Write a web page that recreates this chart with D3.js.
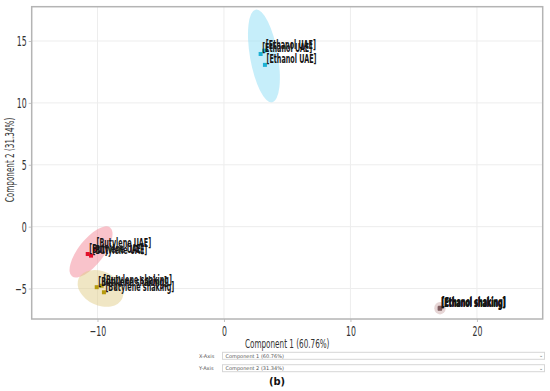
<!DOCTYPE html>
<html>
<head>
<meta charset="utf-8">
<style>
  body { margin: 0; background: #fff; }
  svg text { font-family: "DejaVu Sans Condensed", "Liberation Sans Narrow", sans-serif; }
  .grid line { stroke: #ededed; stroke-width: 1; }
  .tick line { stroke: #c4c4c4; }
  .tick text { fill: #333; font-size: 14px; }
  .frame { fill: none; stroke: #b4b4b4; stroke-width: 1.5; }
  .lbl { fill: #151515; font-size: 13px; font-weight: bold; }
  .title { fill: #333; font-size: 13px; }
  .ctl rect { fill: #fff; stroke: #d6d6d6; }
  .ctl text { fill: #555; font-size: 5px; font-family: "DejaVu Sans", sans-serif; }
</style>
</head>
<body>
<svg id="chart" width="550" height="391"></svg>
<script src="https://d3js.org/d3.v7.min.js"></script>
<script>
  var groupNames = ['Ethanol UAE', 'Butylene UAE', 'Butylene shaking', 'Ethanol shaking'];
  var groupColors = ['#1cb0d4', '#e3102c', '#b59a0c', '#7d5b5e'];
  var ellipseColors = ['#8dddf5', '#f38797', '#e1cd89', '#cdabab'];

  var pointGroup = [0, 0, 0, 1, 1, 1, 2, 2, 2, 3, 3, 3];
  var pointX = [2.90, 3.19, 3.24, -10.77, -10.51, -10.20, -10.06, -9.67, -9.49, 17.05, 17.10, 17.08];
  var pointY = [13.95, 14.22, 13.07, -2.21, -2.34, -1.80, -4.89, -4.77, -5.30, -6.60, -6.55, -6.62];

  var ellipseCx = [3.16, -10.51, -9.76, 17.08];
  var ellipseCy = [13.79, -2.04, -4.99, -6.59];
  var ellipseRx = [1.1, 1.0, 1.9, 0.45];
  var ellipseRy = [3.8, 2.5, 1.37, 0.5];
  var ellipseAngle = [-10, 38, 25, 0];

  var xTicks = [-10, 0, 10, 20];
  var yTicks = [-5, 0, 5, 10, 15];
  var xTitle = 'Component 1 (60.76%)';
  var yTitle = 'Component 2 (31.34%)';
  var selectLabels = ['X-Axis', 'Y-Axis'];
  var selectValues = ['Component 1 (60.76%)', 'Component 2 (31.34%)'];
  var caption = '(b)';

  var plotLeft = 31.7, plotTop = 6.7, plotRight = 542.7, plotBottom = 319,
    squeeze = 0.62, labelSqueeze = 0.55;

  var svg = d3.select('#chart');

  var x = d3.scaleLinear().domain([-15.2, 25.2]).range([plotLeft, plotRight]);
  var y = d3.scaleLinear().domain([-7.46, 17.77]).range([plotBottom, plotTop]);

  // grid
  var grid = svg.append('g').attr('class', 'grid');
  grid.selectAll('.gx').data(xTicks).join('line')
    .attr('x1', d => x(d)).attr('x2', d => x(d))
    .attr('y1', plotTop).attr('y2', plotBottom);
  grid.selectAll('.gy').data(yTicks).join('line')
    .attr('y1', d => y(d)).attr('y2', d => y(d))
    .attr('x1', plotLeft).attr('x2', plotRight);

  // axes
  var xAxis = svg.append('g')
    .attr('transform', 'translate(0,' + plotBottom + ')')
    .call(d3.axisBottom(x).tickValues(xTicks).tickSize(3).tickPadding(4).tickFormat(d3.format('d')));
  var yAxis = svg.append('g')
    .attr('transform', 'translate(' + plotLeft + ',0)')
    .call(d3.axisLeft(y).tickValues(yTicks).tickSize(3).tickPadding(4).tickFormat(d3.format('d')));
  xAxis.select('.domain').remove();
  yAxis.select('.domain').remove();
  svg.selectAll('.tick text').attr('font-size', null);
  xAxis.selectAll('.tick text').attr('transform', 'scale(' + squeeze + ',1)');
  yAxis.selectAll('.tick text')
    .attr('x', -5 / squeeze)
    .attr('transform', 'scale(' + squeeze + ',1)');

  // ellipses
  svg.append('g').selectAll('ellipse').data(groupNames).join('ellipse')
    .attr('cx', 0).attr('cy', 0)
    .attr('rx', (d, i) => x(ellipseCx[i] + ellipseRx[i]) - x(ellipseCx[i]))
    .attr('ry', (d, i) => y(ellipseCy[i]) - y(ellipseCy[i] + ellipseRy[i]))
    .attr('transform', (d, i) => 'translate(' + x(ellipseCx[i]) + ',' + y(ellipseCy[i]) + ') rotate(' + ellipseAngle[i] + ')')
    .attr('fill', (d, i) => ellipseColors[i])
    .attr('fill-opacity', 0.5);

  // points
  var idx = d3.range(pointX.length);
  svg.append('g').selectAll('rect').data(idx).join('rect')
    .attr('x', i => x(pointX[i]) - 2)
    .attr('y', i => y(pointY[i]) - 2)
    .attr('width', 4).attr('height', 4)
    .attr('fill', i => groupColors[pointGroup[i]]);

  // labels
  svg.append('g').selectAll('text').data(idx).join('text')
    .attr('class', 'lbl')
    .attr('transform', i => 'translate(' + (x(pointX[i]) + 1.5) + ',' + (y(pointY[i]) - 1.5) + ') scale(' + labelSqueeze + ',1)')
    .text(i => '[' + groupNames[pointGroup[i]] + ']');

  svg.append('rect').attr('class', 'frame')
    .attr('x', plotLeft).attr('y', plotTop)
    .attr('width', plotRight - plotLeft).attr('height', plotBottom - plotTop);

  // axis titles
  svg.append('text').attr('class', 'title')
    .attr('text-anchor', 'middle')
    .attr('transform', 'translate(' + (plotLeft + plotRight) / 2 + ',348) scale(' + squeeze + ',1)')
    .text(xTitle);
  svg.append('text').attr('class', 'title')
    .attr('text-anchor', 'middle')
    .attr('transform', 'translate(14,160) rotate(-90) scale(' + squeeze + ',1)')
    .text(yTitle);

  // axis selectors
  var ctl = svg.append('g').attr('class', 'ctl')
    .selectAll('g').data(selectLabels).join('g')
    .attr('transform', (d, i) => 'translate(0,' + (352.3 + i * 12.4) + ')');
  ctl.append('text').attr('x', 199).attr('y', 5.3).text(d => d);
  ctl.append('rect').attr('x', 222.5).attr('y', 0).attr('width', 322).attr('height', 7);
  ctl.append('text').attr('x', 225.5).attr('y', 5.3).text((d, i) => selectValues[i]);
  ctl.append('text').attr('x', 539).attr('y', 5).text('\u2304');

  svg.append('text')
    .attr('x', 277).attr('y', 385)
    .attr('text-anchor', 'middle')
    .attr('font-family', '"Liberation Serif", "DejaVu Serif", serif')
    .attr('font-size', 11)
    .attr('font-weight', 'bold')
    .attr('fill', '#111')
    .text(caption);
</script>
</body>
</html>
